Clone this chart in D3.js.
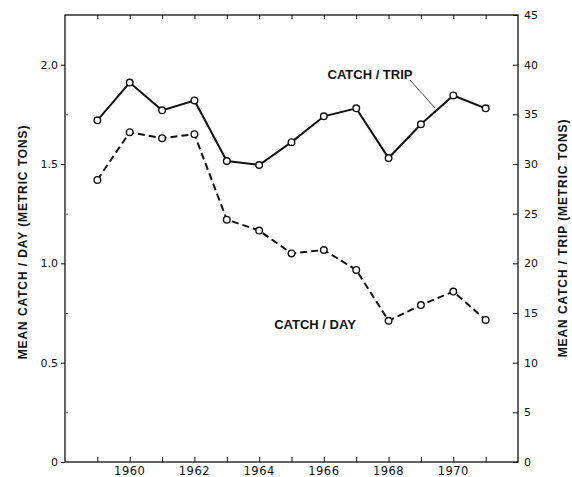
<!DOCTYPE html>
<html><head><meta charset="utf-8">
<script src="https://cdn.jsdelivr.net/npm/d3@7"></script>
<style>body{margin:0;background:#fff}svg{display:block}text{fill:#111}</style>
</head><body><svg id="c" width="572" height="477"></svg>
<script>
const years = [1959,1960,1961,1962,1963,1964,1965,1966,1967,1968,1969,1970,1971];
const catchPerDay = [1.42,1.66,1.63,1.65,1.22,1.165,1.05,1.067,0.967,0.711,0.79,0.858,0.715];
const catchPerTrip = [34.4,38.2,35.4,36.4,30.3,29.9,32.2,34.8,35.6,30.6,34.0,36.9,35.6];
const xTickLabels = [1960,1962,1964,1966,1968,1970];
const leftTicks = [0,0.5,1.0,1.5,2.0];
const rightTicks = [0,5,10,15,20,25,30,35,40,45];

const svg = d3.select("#c");
const L=65, R=518, T=15, B=462;
const x = d3.scaleLinear().domain([1958,1972]).range([L,R]);
const yL = d3.scaleLinear().domain([0,2.25]).range([B,T]);
const yR = d3.scaleLinear().domain([0,45]).range([B,T]);

// frame
svg.append("rect").attr("x",L).attr("y",T).attr("width",R-L).attr("height",B-T)
  .attr("fill","none").attr("stroke","#111").attr("stroke-width",1.3);

// bottom axis (ticks inward)
const bx = svg.append("g").attr("transform",`translate(0,${B})`)
  .call(d3.axisBottom(x).tickValues(d3.range(1959,1972)).tickSize(-5).tickFormat(""));
bx.select(".domain").remove();
bx.selectAll("line").attr("stroke","#111");
svg.append("g").selectAll("text").data(xTickLabels).join("text")
  .attr("x",d=>x(d)).attr("y",B+13).attr("text-anchor","middle")
  .style("font-family","DejaVu Sans").style("font-size","11.5px")
  .attr("letter-spacing",0.5).text(d=>String(d));

// top ticks
const tx = svg.append("g").attr("transform",`translate(0,${T})`)
  .call(d3.axisTop(x).tickValues(d3.range(1959,1972)).tickSize(-4).tickFormat(""));
tx.select(".domain").remove();
tx.selectAll("line").attr("stroke","#111");

// left axis
const la = svg.append("g").attr("transform",`translate(${L},0)`)
  .call(d3.axisLeft(yL).tickValues(leftTicks).tickSize(4).tickPadding(3)
    .tickFormat(d=>d===0?"0":d3.format(".1f")(d)));
la.select(".domain").remove();
la.selectAll("line").attr("stroke","#111");
la.selectAll("text").style("font-size","11px").style("font-family","DejaVu Sans").attr("fill","#111");
const lm = svg.append("g").attr("transform",`translate(${L},0)`)
  .call(d3.axisRight(yL).tickValues([0.25,0.75,1.25,1.75]).tickSize(3).tickFormat(""));
lm.select(".domain").remove();
lm.selectAll("line").attr("stroke","#555");

// right axis (ticks inward)
const ra = svg.append("g").attr("transform",`translate(${R},0)`)
  .call(d3.axisRight(yR).tickValues(rightTicks).tickSize(-5).tickPadding(6));
ra.select(".domain").remove();
ra.selectAll("line").attr("stroke","#111");
ra.selectAll("text").style("font-size","11px").style("font-family","DejaVu Sans").attr("fill","#111");

// axis titles
svg.append("text").attr("transform",`translate(27,242) rotate(-90)`).attr("text-anchor","middle")
  .style("font-family","Liberation Sans").style("letter-spacing","0.9px")
  .style("font-size","12px").style("font-weight","bold").text("MEAN CATCH / DAY (METRIC TONS)");
svg.append("text").attr("transform",`translate(567,238) rotate(-90)`).attr("text-anchor","middle")
  .style("font-family","Liberation Sans").style("letter-spacing","0.9px")
  .style("font-size","12px").style("font-weight","bold").text("MEAN CATCH / TRIP (METRIC TONS)");

// lines
const dayData = years.map((y,i)=>({x:y,v:catchPerDay[i]}));
const tripData = years.map((y,i)=>({x:y,v:catchPerTrip[i]}));
svg.append("path").datum(dayData).attr("fill","none").attr("stroke","#111").attr("stroke-width",2)
  .attr("stroke-dasharray","7,4")
  .attr("d",d3.line().x(d=>x(d.x)).y(d=>yL(d.v)));
svg.append("path").datum(tripData).attr("fill","none").attr("stroke","#111").attr("stroke-width",2)
  .attr("d",d3.line().x(d=>x(d.x)).y(d=>yR(d.v)));
svg.append("g").selectAll("circle").data(dayData).join("circle")
  .attr("cx",d=>x(d.x)).attr("cy",d=>yL(d.v)).attr("r",3.3)
  .attr("fill","#fff").attr("stroke","#111").attr("stroke-width",1.4);
svg.append("g").selectAll("circle").data(tripData).join("circle")
  .attr("cx",d=>x(d.x)).attr("cy",d=>yR(d.v)).attr("r",3.3)
  .attr("fill","#fff").attr("stroke","#111").attr("stroke-width",1.4);

// series labels
svg.append("text").attr("x",370).attr("y",79).attr("text-anchor","middle")
  .style("font-family","Liberation Sans")
  .style("font-size","13px").style("font-weight","bold").text("CATCH / TRIP");
svg.append("line").attr("x1",410).attr("y1",80).attr("x2",435).attr("y2",108)
  .attr("stroke","#111").attr("stroke-width",0.8);
svg.append("text").attr("x",315).attr("y",329).attr("text-anchor","middle")
  .style("font-family","Liberation Sans")
  .style("font-size","13px").style("font-weight","bold").text("CATCH / DAY");
</script></body></html>
